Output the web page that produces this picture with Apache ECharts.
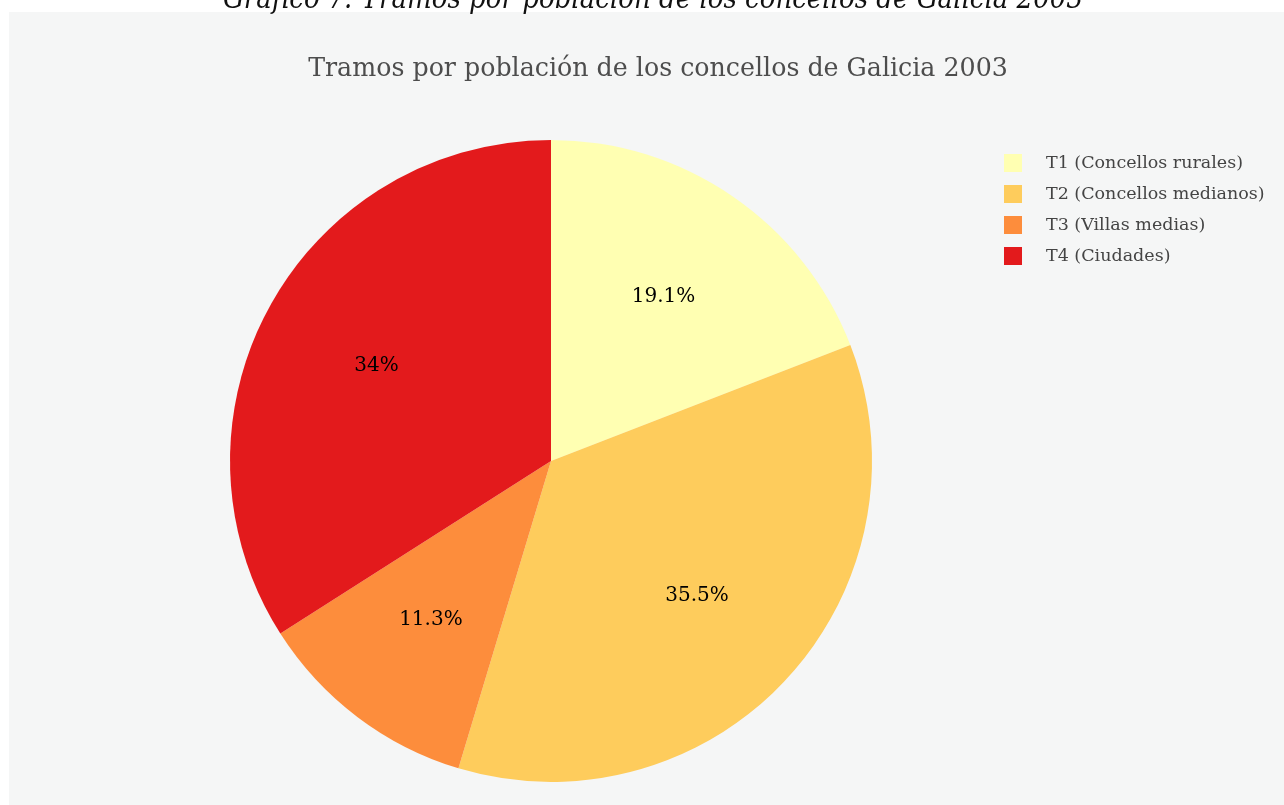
<!DOCTYPE html>
<html>
<head>
<meta charset="utf-8">
<script src="https://cdn.jsdelivr.net/npm/echarts@6/dist/echarts.min.js"></script>
<style>
  html, body { margin: 0; padding: 0; background: #fff; }
  #chart { width: 1284px; height: 805px; }
</style>
</head>
<body>
<div id="chart"></div>
<script>
const categories = ['T1 (Concellos rurales)', 'T2 (Concellos medianos)', 'T3 (Villas medias)', 'T4 (Ciudades)']
const shares = [19.1, 35.5, 11.3, 34.0]
const colors = ['#ffffb2', '#fecc5c', '#fd8d3c', '#e31a1c']

const serif = '"DejaVu Serif", serif'
const serifNarrow = '"DejaVu Serif Condensed", "DejaVu Serif", serif'

let chart = echarts.init(document.getElementById('chart'))

function pieData() {
    return categories.map((name, i) => ({ name: name, value: shares[i] }))
}

chart.setOption({
    backgroundColor: '#ffffff',
    color: colors,
    graphic: [{
        type: 'rect',
        z: -10,
        shape: { x: 9, y: 12, width: 1275, height: 793 },
        style: { fill: '#f5f6f6' }
    }],
    title: [{
        text: 'Gráfico 7: Tramos por población de los concellos de Galicia 2003',
        left: 648,
        textAlign: 'center',
        top: -19,
        textStyle: {
            fontFamily: serifNarrow,
            fontStyle: 'italic',
            fontWeight: 'normal',
            fontSize: 29,
            color: '#111'
        }
    }, {
        text: 'Tramos por población de los concellos de Galicia 2003',
        left: 653,
        textAlign: 'center',
        top: 52,
        textStyle: {
            fontFamily: serif,
            fontWeight: 'normal',
            fontSize: 25.3,
            color: '#4d4d4d'
        }
    }],
    legend: {
        orient: 'vertical',
        left: 999,
        top: 149,
        icon: 'rect',
        itemWidth: 18,
        itemHeight: 18,
        itemGap: 13,
        selectedMode: false,
        textStyle: {
            fontFamily: serif,
            fontSize: 17.5,
            color: '#444',
            padding: [0, 0, 0, 19]
        },
        data: categories
    },
    series: [{
        type: 'pie',
        center: [551, 461],
        radius: [0, 321],
        startAngle: 90,
        clockwise: true,
        silent: true,
        label: { show: false },
        labelLine: { show: false },
        itemStyle: { borderWidth: 0 },
        data: pieData()
    }, {
        // label-only layer, placed a little further out than the default midpoint
        type: 'pie',
        center: [551, 461],
        radius: [0, 392],
        startAngle: 90,
        clockwise: true,
        silent: true,
        itemStyle: { color: 'transparent' },
        labelLine: { show: false },
        label: {
            show: true,
            position: 'inside',
            fontFamily: serif,
            fontSize: 20,
            color: '#000',
            formatter: p => p.value + '%'
        },
        data: pieData()
    }]
})
</script>
</body>
</html>
